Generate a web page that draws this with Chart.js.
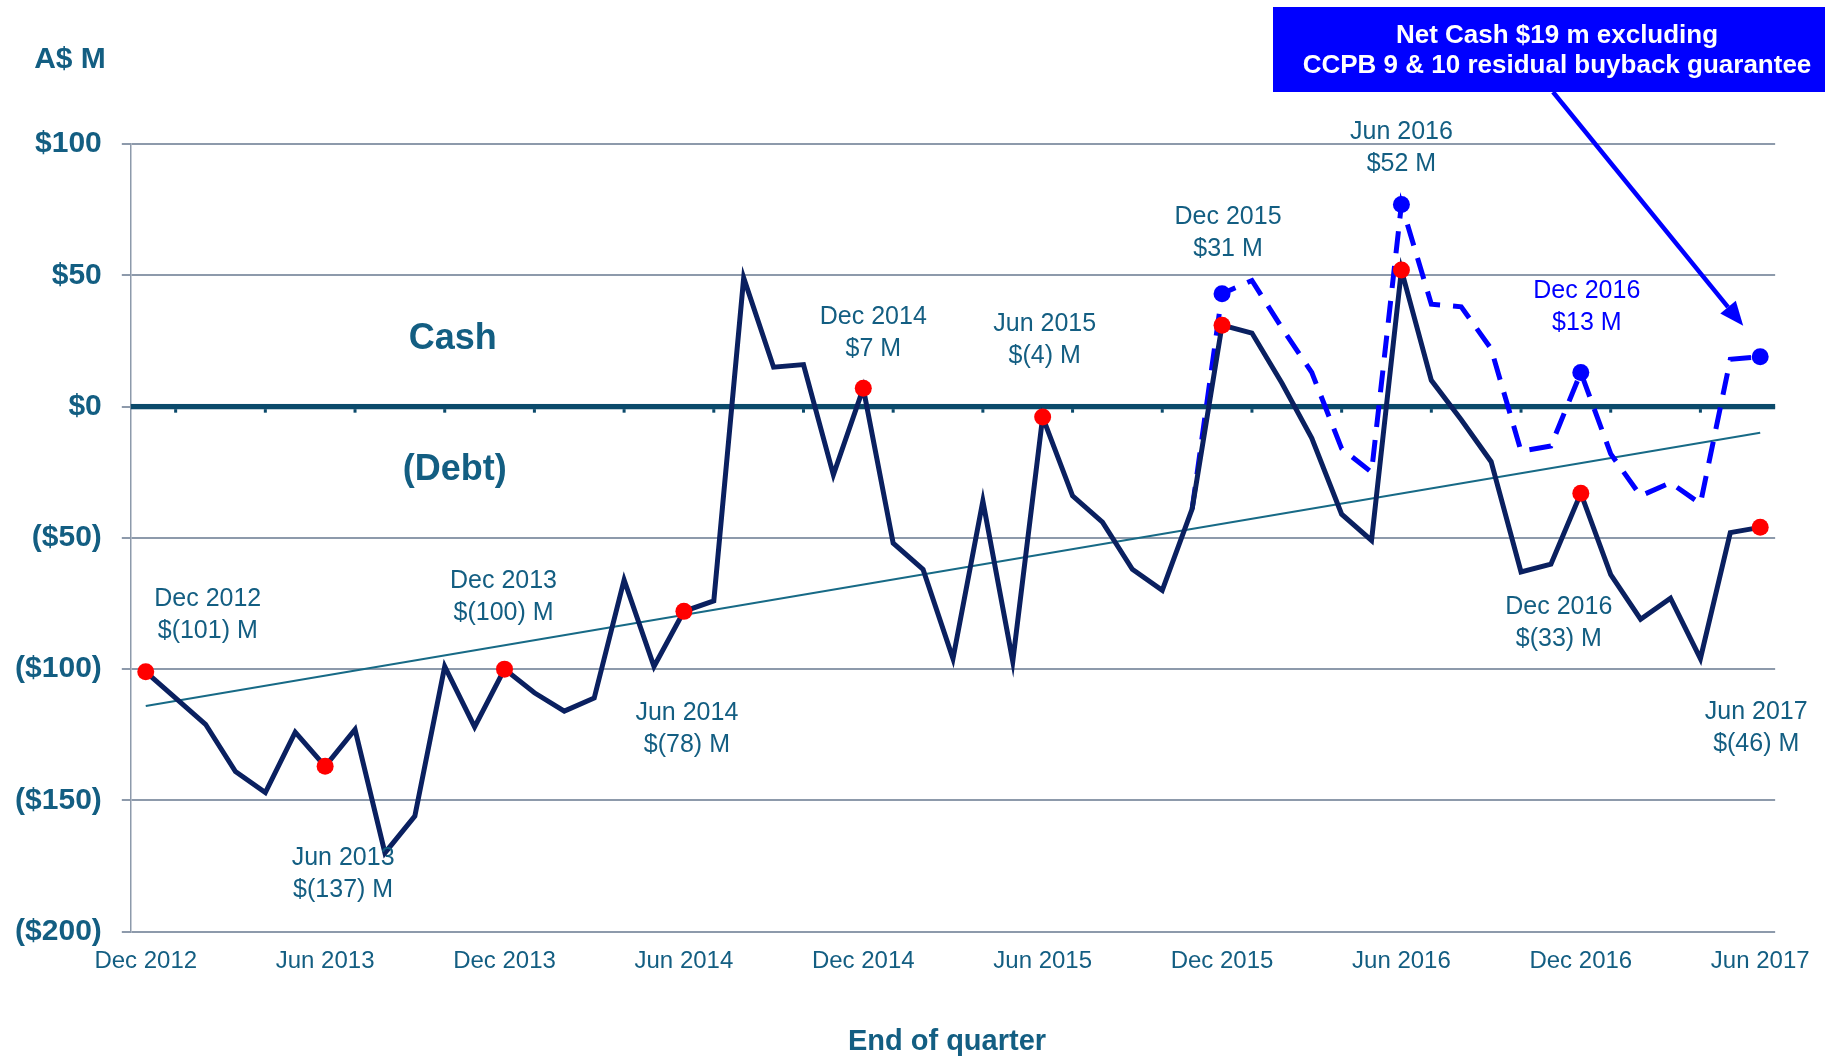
<!DOCTYPE html>
<html>
<head>
<meta charset="utf-8">
<title>Net cash / (debt) at month end</title>
<script src="https://cdn.jsdelivr.net/npm/chart.js@4.4.1/dist/chart.umd.min.js"></script>
<style>
  html, body { margin: 0; padding: 0; background: #fff; }
  #wrap { width: 1825px; height: 1058px; }
</style>
</head>
<body>
<div id="wrap"><canvas id="netCash" width="1825" height="1058"></canvas></div>
<script>
// month ends, Dec 2012 .. Jun 2017
const months = [
  'Dec 2012',
  'Jan 2013','Feb 2013','Mar 2013','Apr 2013','May 2013','Jun 2013','Jul 2013','Aug 2013','Sep 2013','Oct 2013','Nov 2013','Dec 2013',
  'Jan 2014','Feb 2014','Mar 2014','Apr 2014','May 2014','Jun 2014','Jul 2014','Aug 2014','Sep 2014','Oct 2014','Nov 2014','Dec 2014',
  'Jan 2015','Feb 2015','Mar 2015','Apr 2015','May 2015','Jun 2015','Jul 2015','Aug 2015','Sep 2015','Oct 2015','Nov 2015','Dec 2015',
  'Jan 2016','Feb 2016','Mar 2016','Apr 2016','May 2016','Jun 2016','Jul 2016','Aug 2016','Sep 2016','Oct 2016','Nov 2016','Dec 2016',
  'Jan 2017','Feb 2017','Mar 2017','Apr 2017','May 2017','Jun 2017'
];

// net cash / (debt), A$ M
const netCash = [
  -101,
  -111, -121, -139, -147, -124, -137, -123, -170, -156, -99, -122, -100,
  -109, -116, -111, -66, -99, -78, -74, 49, 15, 16, -26, 7,
  -52, -62, -96, -36, -97, -4, -34, -44, -62, -70, -39, 31,
  28, 9, -12, -41, -51, 52, 10, -5, -21, -63, -60, -33,
  -64, -81, -73, -96, -48, -46
];

// net cash excluding CCPB 9 & 10 residual buyback guarantee (from Nov 2015)
const netCashExGuarantee = [
  null,
  null, null, null, null, null, null, null, null, null, null, null, null,
  null, null, null, null, null, null, null, null, null, null, null, null,
  null, null, null, null, null, null, null, null, null, null, -39, 43,
  48, 30, 13, -16, -25, 77, 39, 38, 22, -17, -15, 13,
  -18, -34, -29, -37, 18, 19
];

// linear trend, first and last month
const trendStart = -114;
const trendEnd = -10;

// quarter-end callouts
const calloutMonths = ['Dec 2012', 'Jun 2013', 'Dec 2013', 'Jun 2014', 'Dec 2014', 'Jun 2015', 'Dec 2015', 'Jun 2016', 'Dec 2016', 'Dec 2016', 'Jun 2017'];
const calloutText   = ['$(101) M', '$(137) M', '$(100) M', '$(78) M', '$7 M', '$(4) M', '$31 M', '$52 M', '$13 M', '$(33) M', '$(46) M'];
const calloutSeries = ['net', 'net', 'net', 'net', 'net', 'net', 'net', 'net', 'ex', 'net', 'net'];

const boxLines = ['Net Cash $19 m excluding', 'CCPB 9 & 10 residual buyback guarantee'];

// label placement relative to its point (x offset, y offset of first line)
const calloutOffsets = [[62, -75], [18, 90], [-1, -90], [3, 100], [10, -73], [2, -95], [6, -110], [0, -140], [6, -83], [-22, 112], [-4, 183]];

const FONT = "'Liberation Sans', Arial, sans-serif";
const TEAL = '#135E82';
const NAVY = '#0A2060';
const BLUE = '#0000FF';

Chart.defaults.font.family = FONT;

const isHalfYear = m => m.startsWith('Dec') || m.startsWith('Jun');
const isQuarterTick = m => /^(Jan|Apr|Jul|Oct)/.test(m);

const trend = months.map((m, i) => i === 0 ? trendStart : (i === months.length - 1 ? trendEnd : null));

const overlay = {
  id: 'overlay',
  beforeDatasetsDraw(chart) {
    const { ctx, chartArea: a, scales: { x, y } } = chart;
    const y0 = y.getPixelForValue(0);
    ctx.save();
    ctx.fillStyle = '#0B4A6B';
    ctx.fillRect(a.left, y0 - 2.6, a.right - a.left, 5.3);
    months.forEach((m, i) => {
      if (isQuarterTick(m)) ctx.fillRect(x.getPixelForValue(i) - 1.5, y0 + 2.6, 3, 3.5);
    });
    ctx.restore();
  },
  afterDatasetsDraw(chart) {
    const { ctx, chartArea: a, scales: { y } } = chart;
    const y0 = y.getPixelForValue(0);
    ctx.save();
    ctx.textAlign = 'center';
    ctx.textBaseline = 'alphabetic';

    // axis captions
    ctx.fillStyle = TEAL;
    ctx.font = 'bold 30px ' + FONT;
    ctx.fillText('A$ M', 70, 68);
    ctx.font = 'bold 29px ' + FONT;
    ctx.fillText('End of quarter', (a.left + a.right) / 2 - 6, 1050);
    ctx.font = 'bold 36px ' + FONT;
    ctx.fillText('Cash', a.left + 322, y0 - 58);
    ctx.fillText('(Debt)', a.left + 324, y0 + 73);

    // point callouts
    ctx.font = '25px ' + FONT;
    calloutMonths.forEach((m, k) => {
      const idx = months.indexOf(m);
      const meta = chart.getDatasetMeta(calloutSeries[k] === 'ex' ? 1 : 0);
      const pt = meta.data[idx];
      const [dx, dy] = calloutOffsets[k];
      ctx.fillStyle = calloutSeries[k] === 'ex' ? BLUE : TEAL;
      const cx = pt.x + dx, cy = pt.y + dy + 9;
      ctx.fillText(m, cx, cy);
      ctx.fillText(calloutText[k], cx, cy + 32);
    });

    // note box
    const bx = 1273, by = 7, bw = chart.width - bx, bh = 85;
    ctx.fillStyle = BLUE;
    ctx.fillRect(bx, by, bw, bh);
    ctx.fillStyle = '#FFFFFF';
    ctx.font = 'bold 26px ' + FONT;
    ctx.fillText(boxLines[0], 1557, 43);
    ctx.fillText(boxLines[1], 1557, 73);

    // arrow from note to last excluding-guarantee point
    const exMeta = chart.getDatasetMeta(1);
    const last = exMeta.data[months.length - 1];
    const sx = 1553, sy = by + bh;
    const tx = last.x - 17, ty = last.y - 31;
    const ang = Math.atan2(ty - sy, tx - sx);
    const head = 24, half = 10;
    const hx = tx - head * Math.cos(ang), hy = ty - head * Math.sin(ang);
    ctx.strokeStyle = BLUE;
    ctx.fillStyle = BLUE;
    ctx.lineWidth = 4.5;
    ctx.beginPath();
    ctx.moveTo(sx, sy);
    ctx.lineTo(hx, hy);
    ctx.stroke();
    ctx.beginPath();
    ctx.moveTo(tx, ty);
    ctx.lineTo(hx + half * Math.sin(ang), hy - half * Math.cos(ang));
    ctx.lineTo(hx - half * Math.sin(ang), hy + half * Math.cos(ang));
    ctx.closePath();
    ctx.fill();
    ctx.restore();
  }
};

const chart = new Chart(document.getElementById('netCash').getContext('2d'), {
  type: 'line',
  data: {
    labels: months,
    datasets: [
      {
        label: 'Net cash / (debt)',
        data: netCash,
        borderColor: NAVY,
        borderWidth: 5,
        tension: 0,
        pointRadius: ctx => isHalfYear(months[ctx.dataIndex]) ? 8.5 : 0,
        pointBackgroundColor: '#FF0000',
        pointBorderWidth: 0,
        order: 1
      },
      {
        label: 'Net cash excl. residual buyback guarantee',
        data: netCashExGuarantee,
        borderColor: BLUE,
        borderWidth: 5,
        borderDash: [22, 13],
        tension: 0,
        pointRadius: ctx => isHalfYear(months[ctx.dataIndex]) ? 8.5 : 0,
        pointBackgroundColor: BLUE,
        pointBorderWidth: 0,
        order: 2
      },
      {
        label: 'Trend',
        data: trend,
        borderColor: '#176A86',
        borderWidth: 2,
        spanGaps: true,
        pointRadius: 0,
        order: 3
      }
    ]
  },
  options: {
    responsive: false,
    animation: false,
    devicePixelRatio: 1,
    layout: { padding: { top: 144, right: 47, bottom: 0, left: 0 } },
    plugins: {
      legend: { display: false },
      tooltip: { enabled: false }
    },
    scales: {
      x: {
        type: 'category',
        offset: true,
        grid: { display: false, drawTicks: false },
        border: { display: false },
        ticks: {
          autoSkip: false,
          maxRotation: 0,
          minRotation: 0,
          padding: 15,
          color: TEAL,
          font: { size: 24 },
          callback: (v, i) => isHalfYear(months[i]) ? months[i] : ''
        },
        afterFit: s => { s.height = 126.3; }
      },
      y: {
        min: -200,
        max: 100,
        ticks: {
          stepSize: 50,
          padding: 20,
          color: TEAL,
          font: { size: 30, weight: 'bold' },
          callback: v => v >= 0 ? '$' + v : '($' + (-v) + ')'
        },
        grid: { color: '#8D9AAB', lineWidth: 2, tickLength: 9 },
        border: { display: true, color: '#8D9AAB', width: 1.5 },
        afterFit: s => { s.width = 130.8; }
      }
    }
  },
  plugins: [overlay]
});
</script>
</body>
</html>
